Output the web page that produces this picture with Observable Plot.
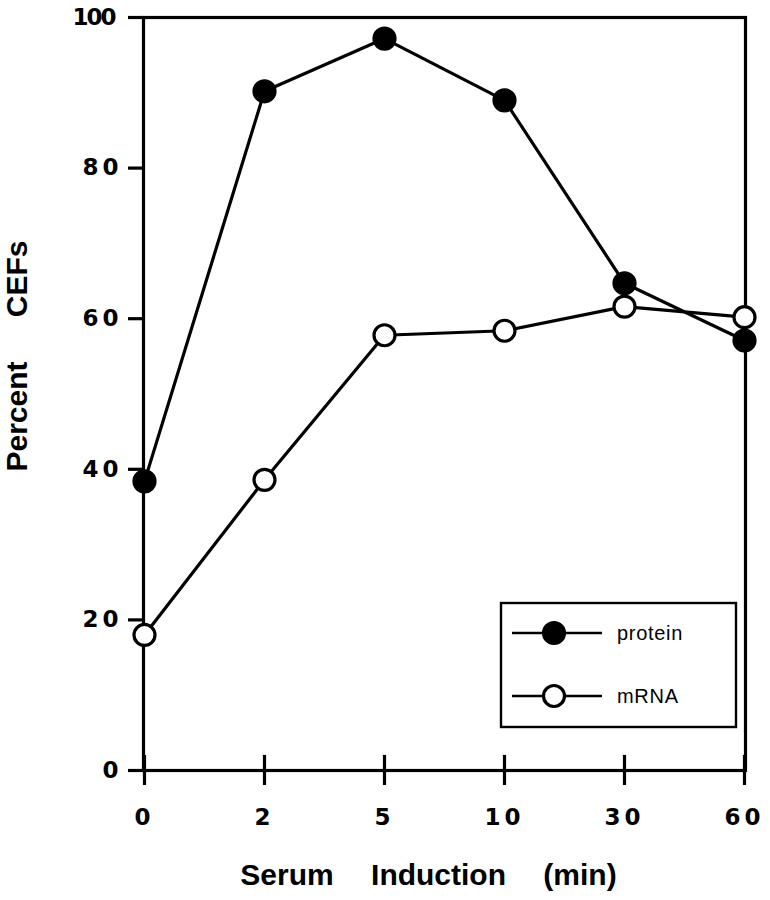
<!DOCTYPE html>
<html><head><meta charset="utf-8">
<script src="https://cdn.jsdelivr.net/npm/d3@7"></script>
<script src="https://cdn.jsdelivr.net/npm/@observablehq/plot@0.6"></script>
<style>
body{margin:0;background:#fff;}
#chart{position:relative;width:770px;height:900px;}
</style></head><body><div id="chart"></div>
<script>
const times = ["0","2","5","10","30","60"];
const protein = [38.4, 90.2, 97.2, 89.0, 64.7, 57.1];
const mrna = [18.0, 38.6, 57.8, 58.4, 61.6, 60.2];
const yTicks = [0, 20, 40, 60, 80, 100];
const seriesNames = ["protein", "mRNA"];
const xTitle = "Serum Induction (min)";
const yTitle = "Percent CEFs";

const proteinData = times.map((t, i) => ({time: t, value: protein[i], series: seriesNames[0]}));
const mrnaData = times.map((t, i) => ({time: t, value: mrna[i], series: seriesNames[1]}));
const allData = proteinData.concat(mrnaData);

const font = "'Liberation Sans', Arial, Helvetica, sans-serif";
const tickFont = "'DejaVu Sans', 'Liberation Sans', sans-serif";
const SW = 3.2;

const plot = Plot.plot({
  width: 770, height: 900,
  marginLeft: 143, marginRight: 25, marginTop: 17, marginBottom: 130,
  style: {fontFamily: font, background: "#fff", color: "#000", overflow: "visible"},
  x: {type: "point", domain: times, padding: 0},
  y: {domain: [0, 100]},
  marks: [
    Plot.frame({stroke: "#000", strokeWidth: SW}),
    Plot.axisY({ticks: yTicks, tickSize: 15, tickPadding: 6, label: null, strokeWidth: SW}),
    Plot.axisX({tickSize: 15, tickPadding: 23, label: null, strokeWidth: SW}),
    Plot.ruleX(times, {x: d => d, y1: 0, y2: 2, stroke: "#000", strokeWidth: SW}),
    Plot.line(allData, {x: "time", y: "value", z: "series", stroke: "#000", strokeWidth: SW}),
    Plot.dot(mrnaData, {x: "time", y: "value", r: 10.5, fill: "#fff", stroke: "#000", strokeWidth: SW}),
    Plot.dot(proteinData, {x: "time", y: "value", r: 10.5, fill: "#000", stroke: "#000", strokeWidth: SW}),
    Plot.text([xTitle], {frameAnchor: "bottom", textAnchor: "middle", dx: -16, dy: 105, fontSize: 30, fontWeight: "bold", lineAnchor: "middle", fill: "#000"}),
    Plot.text([yTitle], {frameAnchor: "left", textAnchor: "middle", rotate: -90, dx: -126, dy: -38, fontSize: 30, fontWeight: "bold", lineAnchor: "middle", fill: "#000"})
  ]
});

document.getElementById("chart").appendChild(plot);
const svg = d3.select(plot);
svg.selectAll('g[aria-label="y-axis tick label"] text, g[aria-label="x-axis tick label"] text')
  .style("letter-spacing", "4px").style("font-size", "23px").style("font-weight", "bold")
  .style("font-family", tickFont);
svg.selectAll('g[aria-label="y-axis tick label"] text')
  .filter(function() { return this.textContent === "100"; })
  .style("letter-spacing", "-2px").attr("dx", -8);
svg.selectAll('g[aria-label="y-axis tick"], g[aria-label="x-axis tick"], g[aria-label="frame"], g[aria-label="rule"], g[aria-label="line"]')
  .attr("stroke-width", SW).selectAll("*").attr("stroke-width", SW);
svg.selectAll("text").filter(function() { return this.textContent === xTitle; }).style("word-spacing", "29px");
svg.selectAll("text").filter(function() { return this.textContent === yTitle; }).style("word-spacing", "36px");

// legend
const lg = svg.append("g").attr("aria-label", "legend");
lg.append("rect").attr("x", 501).attr("y", 603).attr("width", 235).attr("height", 124)
  .attr("fill", "#fff").attr("stroke", "#000").attr("stroke-width", 2.4);
const rows = [{name: seriesNames[0], fill: "#000", y: 633}, {name: seriesNames[1], fill: "#fff", y: 696}];
rows.forEach(r => {
  lg.append("line").attr("x1", 512).attr("x2", 602).attr("y1", r.y).attr("y2", r.y).attr("stroke", "#000").attr("stroke-width", 2.4);
  lg.append("circle").attr("cx", 554).attr("cy", r.y).attr("r", 10.5).attr("fill", r.fill).attr("stroke", "#000").attr("stroke-width", SW);
  lg.append("text").attr("x", 617).attr("y", r.y).attr("dy", "0.35em").attr("text-anchor", "start")
    .style("font-size", "20px").attr("font-family", font).style("letter-spacing", "0.7px").attr("fill", "#000").text(r.name);
});
</script></body></html>
